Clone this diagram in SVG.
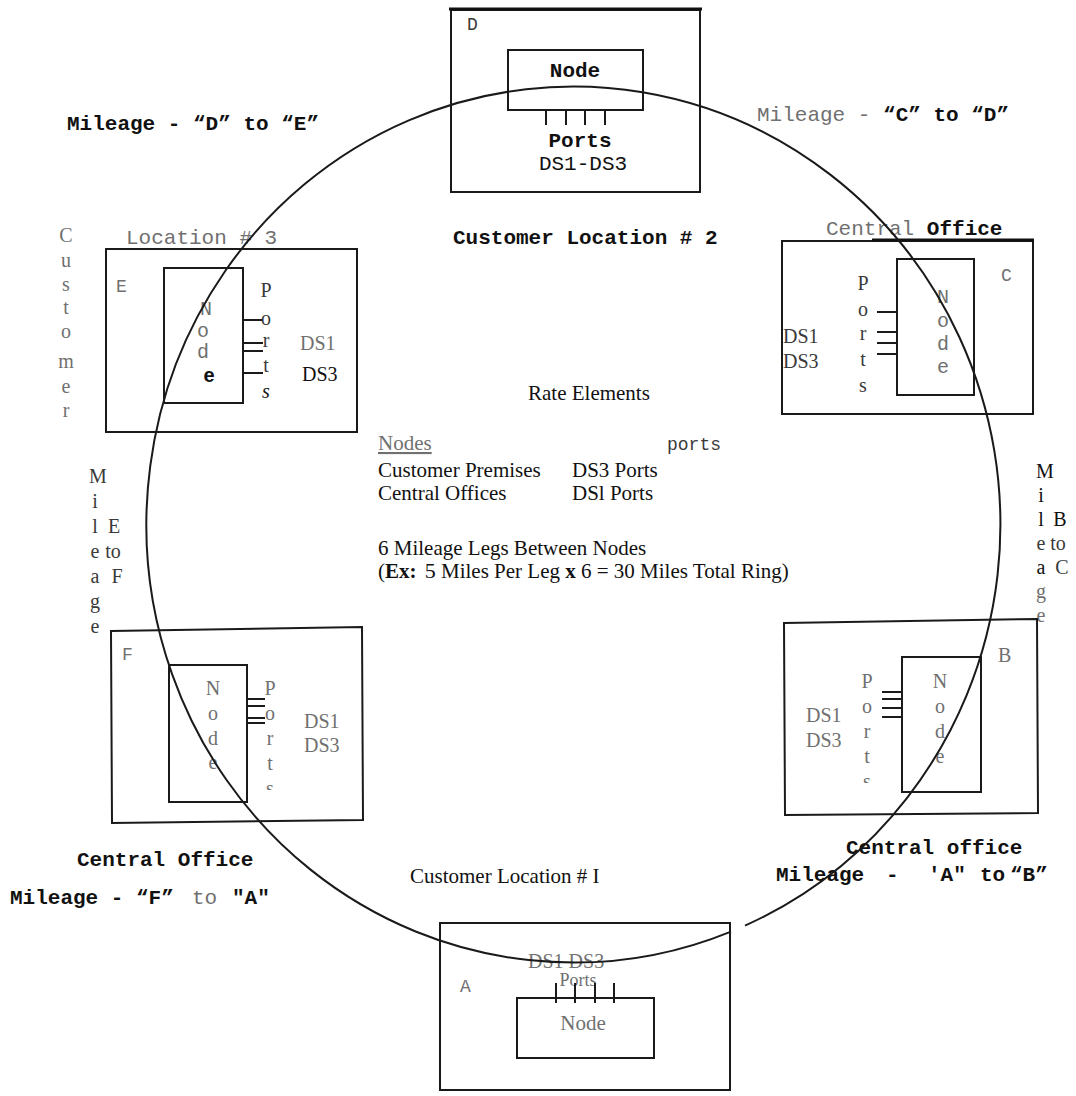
<svg xmlns="http://www.w3.org/2000/svg" width="1076" height="1096" viewBox="0 0 1076 1096">
<style>
.ln{fill:none;stroke:#1a1a1a;stroke-width:2}
.thk{fill:none;stroke:#111;stroke-width:3}
.mono{font-family:"Liberation Mono",monospace}
.serif{font-family:"Liberation Serif",serif}
.sans{font-family:"Liberation Sans",sans-serif}
.b{font-weight:bold}
.lg{fill:#707070}
.dg{fill:#3a3a3a}
.k{fill:#111}
.f18{font-size:18px}
.f20{font-size:20px}
.f21{font-size:21px}
.mid{text-anchor:middle}
</style>
<defs>
<clipPath id="clipB"><rect x="850" y="600" width="40" height="183"/></clipPath>
<clipPath id="clipF"><rect x="250" y="600" width="40" height="190"/></clipPath>
</defs>
<rect x="0" y="0" width="1076" height="1096" fill="#fff"/>

<g id="node-D">
<rect class="ln" x="451" y="10" width="249" height="182"/>
<line class="thk" x1="449" y1="9" x2="702" y2="9"/>
<text class="mono f18 dg" x="467" y="30">D</text>
<rect class="ln" x="508" y="50" width="135" height="60"/>
<text class="mono b f21 k mid" x="575" y="77">Node</text>
<path class="ln" d="M546 110V125M566 110V125M585 110V125M605 110V125"/>
<text class="mono b f21 k mid" x="580" y="147">Ports</text>
<text class="mono f21 k mid" x="583" y="170">DS1-DS3</text>
</g>

<g id="label-D-E"><text class="mono b f21 k" x="67" y="130">Mileage - “D” to “E”</text></g>
<g id="label-C-D"><text class="mono f21" x="757" y="121"><tspan class="lg">Mileage - </tspan><tspan class="b k">“C” to “D”</tspan></text></g>
<g id="label-loc2"><text class="mono b f21 k" x="453" y="244">Customer Location # 2</text></g>

<g id="node-E">
<text class="serif f20 lg mid" x="66" y="242">C</text>
<text class="serif f20 lg mid" x="66" y="267">u</text>
<text class="serif f20 lg mid" x="66" y="291">s</text>
<text class="serif f20 lg mid" x="66" y="314">t</text>
<text class="serif f20 lg mid" x="66" y="338">o</text>
<text class="serif f20 lg mid" x="66" y="368">m</text>
<text class="serif f20 lg mid" x="66" y="393">e</text>
<text class="serif f20 lg mid" x="66" y="417">r</text>
<text class="mono f21 lg" x="126" y="244">Location # 3</text>
<rect class="ln" x="106" y="249" width="251" height="183"/>
<text class="mono f18 lg" x="116" y="292">E</text>
<rect class="ln" x="164" y="268" width="79" height="135"/>
<text class="mono f20 lg mid" x="206" y="315">N</text>
<text class="mono f20 lg mid" x="203" y="337">o</text>
<text class="mono f20 lg mid" x="203" y="358">d</text>
<text class="sans b f20 k mid" x="209" y="382">e</text>
<path class="ln" d="M243 320H263M243 343H263M243 351H263M243 373H263"/>
<text class="serif f20 dg mid" x="266" y="297">P</text>
<text class="serif f20 dg mid" x="266" y="325">o</text>
<text class="serif f20 dg mid" x="266" y="347">r</text>
<text class="serif f20 dg mid" x="266" y="372">t</text>
<text class="serif f20 k mid" x="266" y="398" font-style="italic">s</text>
<text class="serif f20 lg" x="300" y="350">DS1</text>
<text class="serif f20 k" x="302" y="381">DS3</text>
</g>

<g id="node-C">
<text class="mono f21" x="826" y="235"><tspan class="lg">Central </tspan><tspan class="b k">Office</tspan></text>
<rect class="ln" x="782" y="241" width="251" height="173"/>
<line class="thk" x1="872" y1="240" x2="1034" y2="240"/>
<text class="mono f18 lg" x="1001" y="281">C</text>
<rect class="ln" x="897" y="259" width="77" height="136"/>
<path class="ln" d="M877 312H897M877 332H897M877 343H897M877 354H897"/>
<text class="serif f20 dg mid" x="863" y="290">P</text>
<text class="serif f20 dg mid" x="863" y="316">o</text>
<text class="serif f20 dg mid" x="863" y="340">r</text>
<text class="serif f20 dg mid" x="863" y="366">t</text>
<text class="serif f20 dg mid" x="863" y="392">s</text>
<text class="mono f20 lg mid" x="943" y="303">N</text>
<text class="mono f20 lg mid" x="943" y="327">o</text>
<text class="mono f20 lg mid" x="943" y="350">d</text>
<text class="mono f20 lg mid" x="943" y="373">e</text>
<text class="serif f20 dg" x="783" y="343">DS1</text>
<text class="serif f20 dg" x="783" y="368">DS3</text>
</g>

<g id="rate-elements">
<text class="serif f21 k" x="528" y="400">Rate Elements</text>
<text class="serif f21 lg" x="378" y="450" text-decoration="underline">Nodes</text>
<text class="mono f18 dg" x="667" y="450">ports</text>
<text class="serif f21 k" x="378" y="477">Customer Premises</text>
<text class="serif f21 k" x="572" y="477">DS3 Ports</text>
<text class="serif f21 k" x="378" y="500">Central Offices</text>
<text class="serif f21 k" x="572" y="500">DSl Ports</text>
<text class="serif f21 k" x="378" y="555">6 Mileage Legs Between Nodes</text>
<text class="serif f21 k" x="378" y="578">(<tspan class="b">Ex:</tspan> <tspan dx="3" font-size="22">5</tspan> Miles Per Leg <tspan class="b">x</tspan> 6 = 30 Miles Total Ring)</text>
</g>

<g id="label-E-F">
<text class="serif f20 dg mid" x="98" y="483">M</text>
<text class="serif f20 dg mid" x="95" y="508">i</text>
<text class="serif f20 dg mid" x="95" y="533">l</text>
<text class="serif f20 dg mid" x="95" y="558">e</text>
<text class="serif f20 dg mid" x="95" y="583">a</text>
<text class="serif f20 dg mid" x="95" y="608">g</text>
<text class="serif f20 dg mid" x="95" y="633">e</text>
<text class="serif f20 dg mid" x="114" y="533">E</text>
<text class="serif f20 dg mid" x="113" y="558">to</text>
<text class="serif f20 dg mid" x="117" y="583">F</text>
</g>

<g id="label-B-C">
<text class="serif f20 k mid" x="1045" y="478">M</text>
<text class="serif f20 k mid" x="1041" y="502">i</text>
<text class="serif f20 k mid" x="1041" y="526">l</text>
<text class="serif f20 dg mid" x="1041" y="550">e</text>
<text class="serif f20 k mid" x="1041" y="574">a</text>
<text class="serif f20 lg mid" x="1041" y="598">g</text>
<text class="serif f20 lg mid" x="1041" y="622">e</text>
<text class="serif f20 k mid" x="1060" y="526">B</text>
<text class="serif f20 dg mid" x="1058" y="550">to</text>
<text class="serif f20 dg mid" x="1062" y="574">C</text>
</g>

<g id="node-F">
<polygon class="ln" points="111,631 362,627 363,820 112,823"/>
<text class="mono f18 lg" x="122" y="660">F</text>
<rect class="ln" x="169" y="665" width="78" height="137"/>
<path class="ln" d="M247 699H265M247 706H265M247 718H265M247 723H265"/>
<text class="serif f20 lg mid" x="213" y="695">N</text>
<text class="serif f20 lg mid" x="213" y="720">o</text>
<text class="serif f20 lg mid" x="213" y="745">d</text>
<text class="serif f20 lg mid" x="213" y="769">e</text>
<text class="serif f20 lg mid" x="270" y="695">P</text>
<text class="serif f20 lg mid" x="270" y="720">o</text>
<text class="serif f20 lg mid" x="270" y="745">r</text>
<text class="serif f20 lg mid" x="270" y="770">t</text>
<text class="serif f20 lg mid" x="270" y="795" clip-path="url(#clipF)">s</text>
<text class="serif f20 lg" x="304" y="728">DS1</text>
<text class="serif f20 lg" x="304" y="752">DS3</text>
</g>

<g id="node-B">
<polygon class="ln" points="784,623 1037,619 1038,813 785,815"/>
<text class="serif f20 lg" x="998" y="662">B</text>
<rect class="ln" x="902" y="657" width="79" height="135"/>
<path class="ln" d="M882 692H902M882 699H902M882 708H902M882 717H902"/>
<text class="serif f20 lg mid" x="867" y="688">P</text>
<text class="serif f20 lg mid" x="867" y="713">o</text>
<text class="serif f20 lg mid" x="867" y="738">r</text>
<text class="serif f20 lg mid" x="867" y="763">t</text>
<text class="serif f20 lg mid" x="867" y="788" clip-path="url(#clipB)">s</text>
<text class="serif f20 lg mid" x="940" y="688">N</text>
<text class="serif f20 lg mid" x="940" y="713">o</text>
<text class="serif f20 lg mid" x="940" y="738">d</text>
<text class="serif f20 lg mid" x="940" y="763">e</text>
<text class="serif f20 lg" x="806" y="722">DS1</text>
<text class="serif f20 lg" x="806" y="747">DS3</text>
</g>

<g id="label-co-left"><text class="mono b f21 k" x="77" y="866">Central Office</text></g>
<g id="label-co-right"><text class="mono b f21 k" x="846" y="854">Central office</text></g>
<g id="label-loc1"><text class="serif f21 k" x="410" y="883">Customer Location # I</text></g>
<g id="label-A-B"><text class="mono b f21 k" y="881"><tspan x="776">Mileage</tspan><tspan x="886">-</tspan><tspan x="928">'A"</tspan><tspan x="980">to</tspan><tspan x="1010">“B”</tspan></text></g>
<g id="label-F-A"><text class="mono b f21 k" y="904"><tspan x="10">Mileage - “F”</tspan><tspan x="192" class="lg" font-weight="normal">to</tspan><tspan x="232">"A"</tspan></text></g>

<g id="node-A">
<rect class="ln" x="440" y="923" width="290" height="167"/>
<text class="mono f18 lg" x="460" y="992">A</text>
<text class="serif f20 lg" x="528" y="968">DS1 DS3</text>
<text class="serif f18 lg mid" x="578" y="986">Ports</text>
<path class="ln" d="M556 983V1003M575 983V1003M595 983V1003M614 983V1003"/>
<rect class="ln" x="517" y="998" width="137" height="60"/>
<text class="serif f21 lg mid" x="583" y="1030">Node</text>
</g>

<g id="connectors">
<path class="ln" d="M745 925.6A427 438 0 1 0 731 931.6"/>
</g>
</svg>
